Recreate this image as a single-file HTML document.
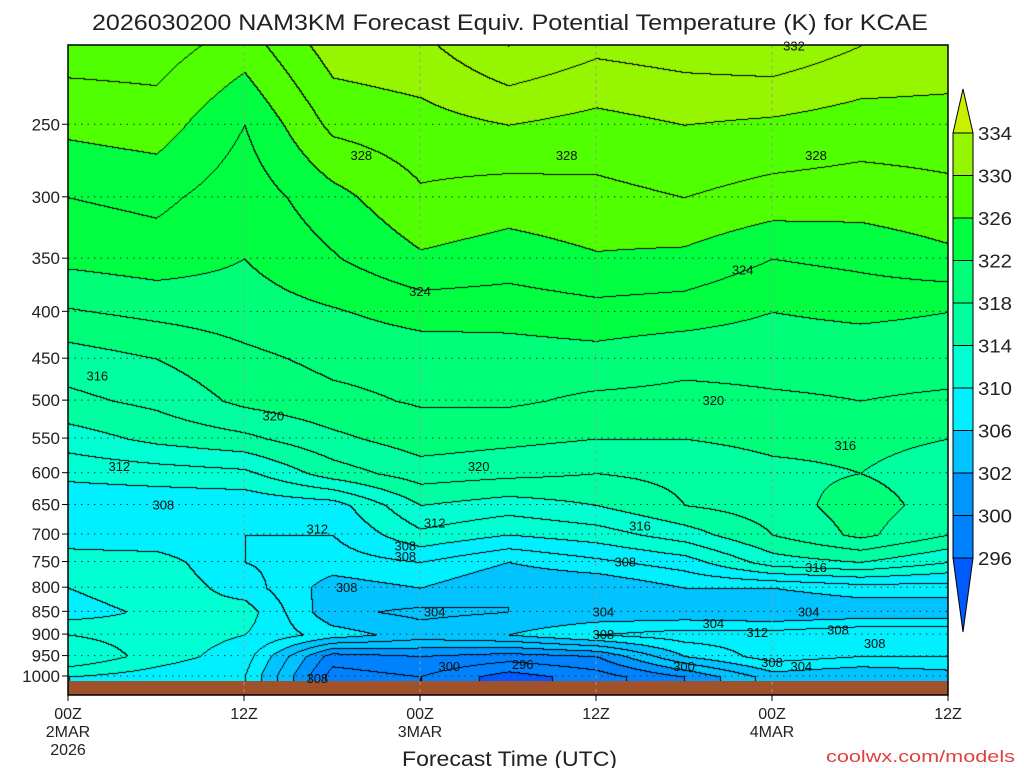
<!DOCTYPE html>
<html><head><meta charset="utf-8"><style>
body{margin:0;background:#fff;width:1024px;height:768px;overflow:hidden;position:relative;font-family:"Liberation Sans",sans-serif;}
#plot{position:absolute;left:68px;top:45px;}
svg{position:absolute;left:0;top:0;}
</style></head><body>
<canvas id="plot" width="880" height="636"></canvas>
<svg id="ov" width="1024" height="768"></svg>
<script>
// pressure levels (hPa) and forecast hours
const levels=[205,250,300,350,400,450,500,550,600,650,700,750,800,850,900,950,1000];
const hours=[0,6,12,18,24,30,36,42,48,54,60];
const t00=[329,326.5,324,322.5,319.8,317,315.5,313,310.5,308.5,309,311,310,309,312,314,310];
const t06=[329,327,324.5,323,320.5,318,316.5,314.5,311,308.5,308.5,311,311.5,310.5,311,311,309];
const t12=[327,324,322.8,322,321,319.5,318.5,315.5,311.5,308.5,308,308,309,311,310,309,308];
const t18=[331,328.5,325.3,323.8,321.8,320.5,319.5,317.5,315,309,308,307,305,304.5,307,299,297];
const t24=[331.5,329.2,327.7,325.7,322.8,320.8,320.2,319,317,314,311.5,308,306,303.5,305,300,298];
const t30=[334,330,327,325,322.8,321,320.3,318.5,316.5,313,310,306,304,304,306,299,295];
const t36=[332.5,329.3,327.4,325.8,323.3,321.2,319.6,318,316,314,311,307.5,304,304.5,308,300,297];
const t42=[333,330,328,325.5,323,320.5,319.5,318,316.5,316,313,309,306,304.5,309,306,300];
const t48=[333.5,329.6,327.2,324,322,320.5,319.8,318.5,317.5,317,316,313,306,304,309,309,305];
const t54=[332,329,327,324.5,322.5,320.5,320,318.5,318,319,318.5,314,307,304.5,310,308,304];
const t60=[331.5,329,327.5,325.5,322,320.5,319.8,318,317,317,316,312,307,304.5,310,308,305];
const cols=[t00,t06,t12,t18,t24,t30,t36,t42,t48,t54,t60];
const yTicks=[250,300,350,400,450,500,550,600,650,700,750,800,850,900,950,1000];
const cbLevels=[334,330,326,322,318,314,310,306,302,300,296];
const cbColors=["#c8f000","#96f500","#50ff00","#00ff40","#00ff78","#00ffa0","#00ffd2","#00f0ff","#00c3ff","#0096ff","#0082ff","#005aff"];

const X0=68,X1=948,YT=45;
const xs=h=>X0+(h/60)*(X1-X0);
const ys=p=>676-398*Math.log(1000/p);
const pAt=y=>1000*Math.exp(-(676-y)/398);

function val(h,p){
  let fi=Math.min(Math.max(h/6,0),hours.length-1.0001);let i=Math.floor(fi),fx=fi-i;
  let lp=Math.log(p);let j=0;
  while(j<levels.length-2&&Math.log(levels[j+1])<lp)j++;
  let fy=(lp-Math.log(levels[j]))/(Math.log(levels[j+1])-Math.log(levels[j]));
  fy=Math.min(Math.max(fy,0),1);
  const a=cols[i][j],b=cols[i+1][j],c=cols[i][j+1],d=cols[i+1][j+1];
  return (a*(1-fx)+b*fx)*(1-fy)+(c*(1-fx)+d*fx)*fy;
}
function band(v){
  for(let k=0;k<cbLevels.length;k++){if(v>=cbLevels[k])return k;}
  return cbLevels.length;
}
function hex(c){return [parseInt(c.substr(1,2),16),parseInt(c.substr(3,2),16),parseInt(c.substr(5,2),16)];}
const rgb=cbColors.map(hex);
const cv=document.getElementById('plot');const ctx=cv.getContext('2d');
const W=880,H=636;const img=ctx.createImageData(W,H);
const V=new Float32Array(W*H);
for(let y=0;y<H;y++){const p=pAt(y+YT);for(let x=0;x<W;x++){V[y*W+x]=val((x/W)*60,p);}}
for(let y=0;y<H;y++)for(let x=0;x<W;x++){
  const v=V[y*W+x];const c=rgb[band(v)];const o=(y*W+x)*4;
  let line=false;const lv=Math.floor(v/2);
  if(x>0&&Math.floor(V[y*W+x-1]/2)!==lv)line=true;
  if(y>0&&Math.floor(V[(y-1)*W+x]/2)!==lv)line=true;
  if(line){img.data[o]=0;img.data[o+1]=0;img.data[o+2]=0;}
  else{img.data[o]=c[0];img.data[o+1]=c[1];img.data[o+2]=c[2];}
  img.data[o+3]=255;
}
ctx.putImageData(img,0,0);

const NS="http://www.w3.org/2000/svg";const svg=document.getElementById('ov');
function mk(tag,at,txt){const e=document.createElementNS(NS,tag);for(const k in at)e.setAttribute(k,at[k]);if(txt!==undefined)e.textContent=txt;svg.appendChild(e);return e;}
let g=mk('rect',{x:X0,y:681,width:X1-X0,height:14,fill:'#a0522d'});


for(const p of yTicks){const y=ys(p);
  let l=mk('line',{x1:X0,x2:X1,y1:y,y2:y,stroke:'#333','stroke-width':1,'stroke-dasharray':'1.5,5'});
  
  
  mk('line',{x1:62,x2:X0,y1:y,y2:y,stroke:'#000','stroke-width':1});
  let t=mk('text',{x:60,y:y+6,'text-anchor':'end','font-size':17,fill:'#222'},String(p));
  
  
}
const xTickHours=[0,12,24,36,48,60];
const xTickTop=["00Z","12Z","00Z","12Z","00Z","12Z"];
const xTickDate=["2MAR","","3MAR","","4MAR",""];
xTickHours.forEach((h,i)=>{const x=xs(h);
  if(i>0&&i<5){let l=mk('line',{x1:x,x2:x,y1:YT,y2:695,stroke:'#999','stroke-width':1,'stroke-dasharray':'3,4'});
    
    }
  mk('line',{x1:x,x2:x,y1:695,y2:701,stroke:'#000'});
  let t=mk('text',{x:x,y:719,'text-anchor':'middle','font-size':16,fill:'#222'},xTickTop[i]);
  
  
  if(xTickDate[i]){let d=mk('text',{x:x,y:737,'text-anchor':'middle','font-size':16,fill:'#222'},xTickDate[i]);
    
    }
});
let yr=mk('text',{x:68,y:755,'text-anchor':'middle','font-size':16,fill:'#222'},'2026');


let fr=mk('rect',{x:X0,y:YT,width:X1-X0,height:695-YT,fill:'none',stroke:'#000','stroke-width':1.5});


const labTxt=["328","328","328","332","324","324","316","320","320","320","316","312","308","308","308","308","312","312","308","316","316","304","304","304","304","308","312","308","308","300","296","300","308","304","308"];
const labH=[20,34,51,49.5,24,46,2,14,28,44,53,3.5,6.5,23,19,23,25,17,38,39,51,25,36.5,44,50.5,36.5,47,52.5,55,26,31,42,48,50,17];
const labP=[270,270,270,205,380,360,470,520,590,500,560,590,650,720,800,740,680,690,750,685,760,850,850,875,850,900,895,890,920,975,970,975,965,975,1005];
labTxt.forEach((s,i)=>{let t=mk('text',{x:xs(labH[i]),y:ys(labP[i])+5,'text-anchor':'middle','font-size':13,fill:'#111'},s);
  
  });
const cbX=953,cbW=20,cbTop=133,cbStep=42.5;
let tri=mk('polygon',{points:`${cbX},${cbTop} ${cbX+cbW},${cbTop} ${cbX+cbW/2},89`,fill:cbColors[0],stroke:'#000'});


for(let k=0;k<10;k++){let r=mk('rect',{x:cbX,y:cbTop+k*cbStep,width:cbW,height:cbStep,fill:cbColors[k+1],stroke:'#000'});
  
  }
const cbBot=cbTop+10*cbStep;
let tri2=mk('polygon',{points:`${cbX},${cbBot} ${cbX+cbW},${cbBot} ${cbX+cbW/2},632`,fill:cbColors[11],stroke:'#000'});


cbLevels.forEach((v,k)=>{let t=mk('text',{x:978,y:cbTop+k*cbStep+7,'font-size':18,fill:'#222',textLength:34,lengthAdjust:'spacingAndGlyphs'},String(v));
  
  });
let ti=mk('text',{x:92,y:30,'font-size':22,fill:'#222',textLength:836,lengthAdjust:'spacingAndGlyphs'},'2026030200 NAM3KM Forecast Equiv. Potential Temperature (K) for KCAE');


let xt=mk('text',{x:402,y:766,'font-size':21,fill:'#222',textLength:215,lengthAdjust:'spacingAndGlyphs'},'Forecast Time (UTC)');


let cr=mk('text',{x:826,y:762,'font-size':17,fill:'#e04040',textLength:189,lengthAdjust:'spacingAndGlyphs'},'coolwx.com/models');


</script>
</body></html>
